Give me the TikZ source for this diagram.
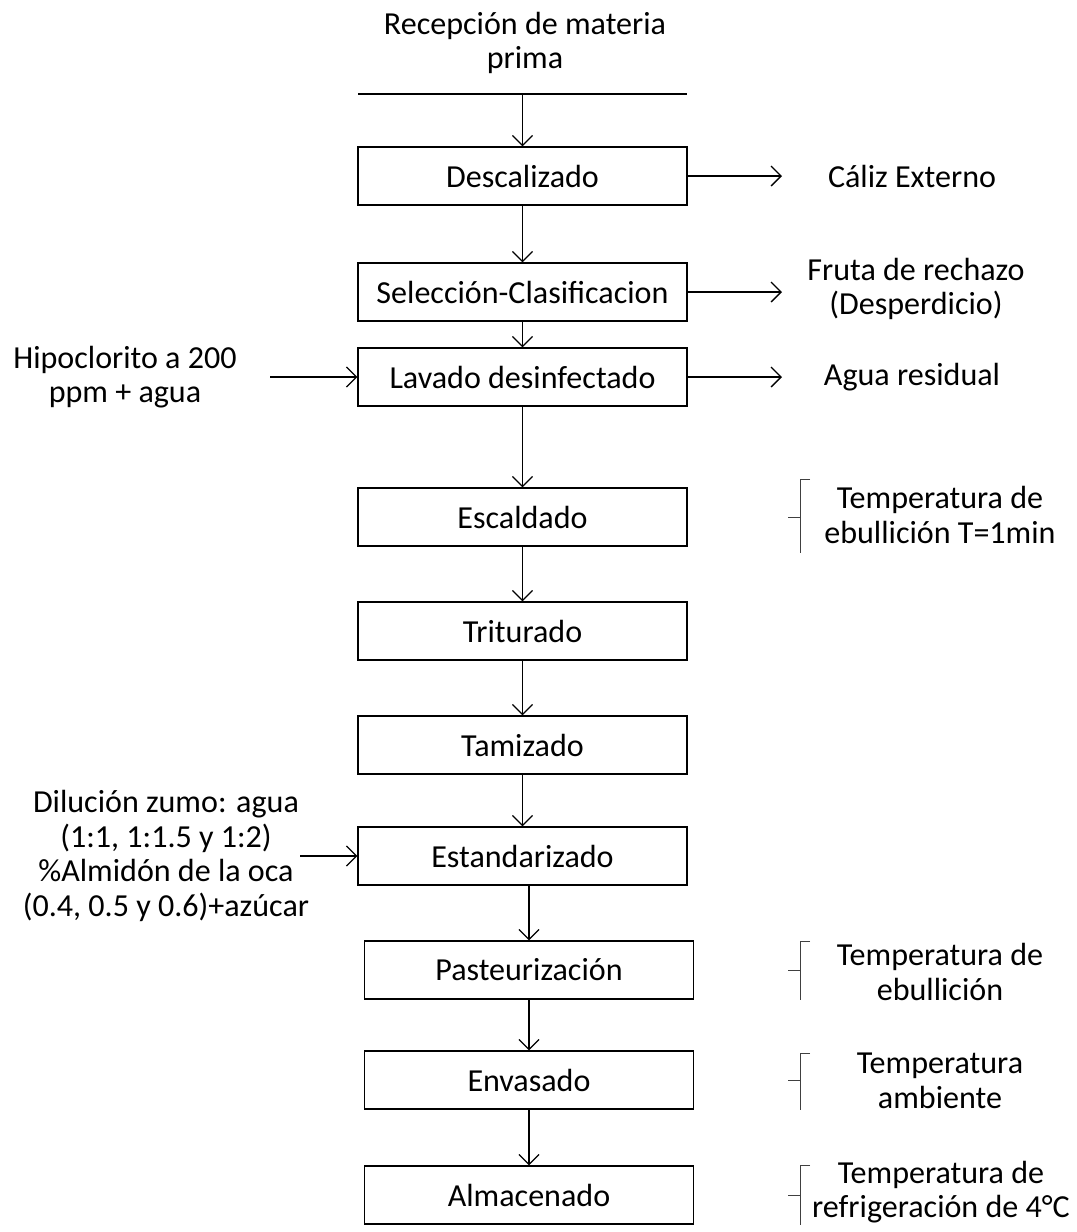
\documentclass[tikz,border=0pt]{standalone}
\usepackage{fontspec}
\setmainfont{Carlito}
\usetikzlibrary{arrows.meta,positioning}

\begin{document}
\begin{tikzpicture}[x=0.025cm,y=-0.025cm,
    every node/.style={font=\fontsize{22.8}{24.5}\selectfont},
    proc/.style={draw, line width=0.9pt, minimum width=8.225cm, minimum height=1.45cm, inner sep=0pt},
    txt/.style={align=center, inner sep=0pt},
    flow/.style={-{Straight Barb[length=2.5mm,width=5mm]}, line width=0.9pt},
    tbrace/.style={line width=0.6pt, draw=black!75}]
    \useasboundingbox (0,0) rectangle (1077,1232);

    % Entrada
    \node[txt] (rec) at (525,43) {Recepción de materia\\prima};
    \draw[line width=0.9pt] (358,94) -- (687,94);
    \coordinate (top) at (522.5,94);

    % Etapas del proceso
    \node[proc] (desc) at (522.5,176) {Descalizado};
    \node[proc] (sel) at (522.5,292) {Selección-Clasificacion};
    \node[proc] (lav) at (522.5,377) {Lavado desinfectado};
    \node[proc] (esc) at (522.5,517) {Escaldado};
    \node[proc] (tri) at (522.5,631) {Triturado};
    \node[proc] (tam) at (522.5,745) {Tamizado};
    \node[proc] (est) at (522.5,856) {Estandarizado};
    \node[proc] (pas) at (529,970) {Pasteurización};
    \node[proc] (env) at (529,1080) {Envasado};
    \node[proc] (alm) at (529,1195) {Almacenado};

    % Flujo principal
    \draw[flow] (top) -- (desc);
    \draw[flow] (desc) -- (sel);
    \draw[flow] (sel) -- (lav);
    \draw[flow] (lav) -- (esc);
    \draw[flow] (esc) -- (tri);
    \draw[flow] (tri) -- (tam);
    \draw[flow] (tam) -- (est);
    \draw[flow] (est.south -| pas.north) -- (pas);
    \draw[flow] (pas) -- (env);
    \draw[flow] (env) -- (alm);

    % Salidas
    \node[txt] (caliz) at (912,176) {Cáliz Externo};
    \node[txt] (fruta) at (916,289) {Fruta de rechazo\\(Desperdicio)};
    \node[txt] (agua) at (912,377) {Agua residual};
    \coordinate (out1) at (782,176);
    \coordinate (out2) at (782,292);
    \coordinate (out3) at (782,377);
    \draw[flow] (desc) -- (out1);
    \draw[flow] (sel) -- (out2);
    \draw[flow] (lav) -- (out3);

    % Entradas laterales
    \node[txt] (hipo) at (125,377) {Hipoclorito a 200\\ppm + agua};
    \node[txt] (dil) at (166,856) {Dilución zumo: agua\\(1:1, 1:1.5 y 1:2)\\\%Almidón de la oca\\(0.4, 0.5 y 0.6)+azúcar};
    \coordinate (in1) at (270,377);
    \coordinate (in2) at (300,856);
    \draw[flow] (in1) -- (lav);
    \draw[flow] (in2) -- (est);

    % Condiciones
    \node[txt] (t1) at (940,515) {Temperatura de\\ebullición T=1min};
    \node[txt] (t2) at (940,972) {Temperatura de\\ebullición};
    \node[txt] (t3) at (940,1081) {Temperatura\\ambiente};
    \node[txt] (t4) at (941,1192) {Temperatura de\\refrigeración de 4°C};
    \foreach \t/\m/\b in {479/517/553, 941/970/1000, 1053/1080/1110, 1165/1195/1225}
        \draw[tbrace] (810,\t) -- (800,\t) -- (800,\b) (788,\m) -- (800,\m);
\end{tikzpicture}
\end{document}
